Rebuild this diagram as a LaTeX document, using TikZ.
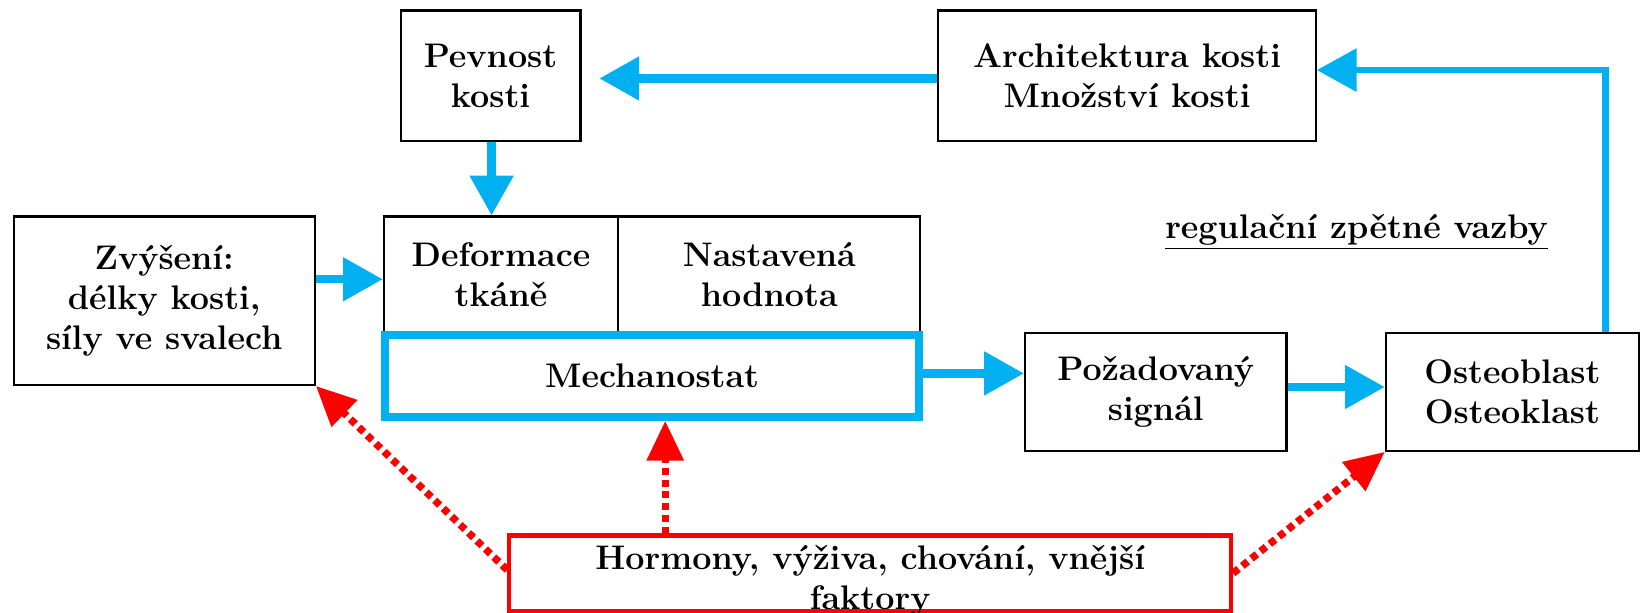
\documentclass[tikz,border=0pt]{standalone}
\usetikzlibrary{arrows.meta,calc}
\definecolor{cblue}{RGB}{0,176,240}
\definecolor{cred}{RGB}{255,0,0}
\begin{document}
\begin{tikzpicture}[x=0.5pt,y=-0.5pt,
  font=\fontsize{16.3}{19}\selectfont\bfseries,
  box/.style={draw=black,line width=1pt,inner sep=0pt,align=center},
  barrow/.style={draw=cblue,line width=4pt,-{Triangle[length=19pt,width=20pt]}},
  rarrow/.style={draw=cred,line width=3.5pt,dash pattern=on 3.3pt off 2.3pt,-{Triangle[length=19pt,width=17pt]}}]
\useasboundingbox (0,0) rectangle (1568,586);
\node[box,minimum width=86pt,minimum height=62.5pt] (pev) at (469,72.5) {Pevnost\\kosti};
\node[box,minimum width=180.5pt,minimum height=62.5pt] (arch) at (1077.5,72.5) {Architektura kosti\\Množství kosti};
\node[box,minimum width=144pt,minimum height=80.5pt] (zvy) at (157,287.5) {Zvýšení:\\délky kosti,\\síly ve svalech};
\node[box,minimum width=112pt,minimum height=55.5pt] (def) at (479,262.5) {Deformace\\tkáně};
\node[box,minimum width=144.5pt,minimum height=55.5pt] (nas) at (735.5,262.5) {Nastavená\\hodnota};
\node[draw=cblue,line width=3.8pt,inner sep=0pt,minimum width=255pt,minimum height=39pt] (mech) at (623.5,359.5) {Mechanostat};
\node[box,minimum width=125pt,minimum height=56.5pt] (poz) at (1105,374.5) {Požadovaný\\signál};
\node[box,minimum width=121pt,minimum height=56.5pt] (ost) at (1446,374.5) {Osteoblast\\Osteoklast};
\node[draw=cred,line width=2pt,inner sep=0pt,minimum width=345pt,minimum height=36pt] (hor) at (832,548) {};
\node[align=center,inner sep=0pt] (hortext) at (832,555) {Hormony, výživa, chování, vnější\\faktory};
\node (reg) at (1297,222) {\underline{regulační zpětné vazby}};
% blue connectors
\coordinate (pevtip) at ($(pev.east |- 0,75)+(17,0)$);
\draw[barrow] (arch.west |- 0,75) -- (pevtip);
\draw[barrow] (pev.south -| 470,0) -- (def.north -| 470,0);
\draw[barrow] (zvy.east |- 0,267) -- (def.west |- 0,267);
\draw[barrow] (mech.east |- 0,357) -- (poz.west |- 0,357);
\draw[barrow] (poz.east |- 0,370) -- (ost.west |- 0,370);
\draw[barrow,line width=3.2pt] (ost.north -| 1535,0) -- (1535,67) -- (arch.east |- 0,67);
% red connectors
\coordinate (hm) at (hor.north -| 636,0);
\coordinate (mm) at (mech.south -| 636,0);
\draw[rarrow] (hm) -- (mm);
\draw[rarrow] (hor.west |- 0,545) -- (zvy.south east);
\draw[rarrow] (hor.east |- 0,548) -- (ost.south west);
\end{tikzpicture}
\end{document}
